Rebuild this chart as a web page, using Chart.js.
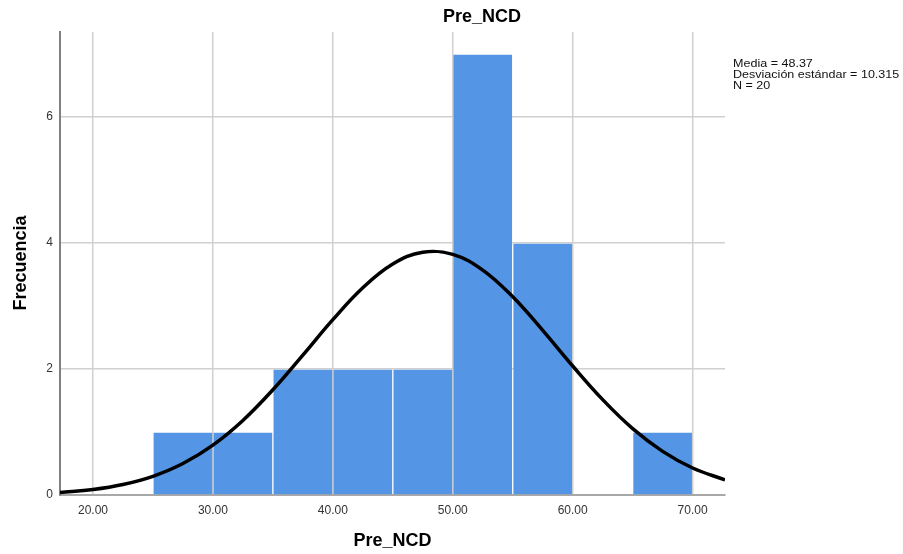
<!DOCTYPE html>
<html>
<head>
<meta charset="utf-8">
<script src="https://cdn.jsdelivr.net/npm/chart.js@4/dist/chart.umd.min.js"></script>
<style>
html,body{margin:0;padding:0;background:#fff;}
#wrap{width:903px;height:554px;position:relative;}
</style>
</head>
<body>
<div id="wrap"><canvas id="c" width="903" height="554"></canvas></div>
<script>
// Histogram bins (centers) and counts
const binCenters = [27.5, 32.5, 37.5, 42.5, 47.5, 52.5, 57.5, 62.5, 67.5];
const binCounts  = [1, 1, 2, 2, 2, 7, 4, 0, 1];
// Normal curve
const curveX = [17.25, 20, 22.5, 25, 27.5, 30, 32.5, 35, 37.5, 40, 42.5, 45, 47.5, 50, 52.5, 55, 57.5, 60, 62.5, 65, 67.5, 70, 72.7];
const curveY = [0.041, 0.088, 0.167, 0.297, 0.499, 0.792, 1.184, 1.670, 2.220, 2.783, 3.290, 3.667, 3.854, 3.820, 3.570, 3.146, 2.614, 2.048, 1.514, 1.054, 0.693, 0.429, 0.239];
const xTicks = [20, 30, 40, 50, 60, 70];
const yTicks = [0, 2, 4, 6];
const xRange = [17.25, 72.7];
const yRange = [0, 7.35];
const chartTitle = "Pre_NCD";
const xTitle = "Pre_NCD";
const yTitle = "Frecuencia";
const statsLines = ["Media = 48.37", "Desviación estándar = 10.315", "N = 20"];

const FONT = "'Liberation Sans', Arial, sans-serif";

const textPlugin = {
  id: 'texts',
  afterDraw(chart) {
    const ctx = chart.ctx;
    const ca = chart.chartArea;
    ctx.save();
    ctx.fillStyle = '#000';
    ctx.textBaseline = 'middle';
    ctx.textAlign = 'center';
    ctx.font = "bold 18px " + FONT;
    ctx.fillText(chartTitle, 482, 17);
    ctx.fillText(xTitle, (ca.left + ca.right) / 2, 541);
    ctx.save();
    ctx.translate(21, 263);
    ctx.rotate(-Math.PI / 2);
    ctx.font = "bold 18px " + FONT;
    ctx.fillText(yTitle, 0, 0);
    ctx.restore();
    ctx.textAlign = 'left';
    ctx.font = "11px " + FONT;
    ctx.fillStyle = '#111';
    statsLines.forEach((s, i) => {
      ctx.save();
      ctx.translate(733, 63.5 + i * 11.4);
      ctx.scale(1.14, 1);
      ctx.fillText(s, 0, 0);
      ctx.restore();
    });
    ctx.restore();
  }
};

new Chart(document.getElementById('c'), {
  data: {
    datasets: [
      {
        type: 'line',
        data: curveX.map((x, i) => ({x: x, y: curveY[i]})),
        borderColor: '#000',
        borderWidth: 3.5,
        pointRadius: 0,
        tension: 0.4,
        fill: false,
        order: 0
      },
      {
        type: 'bar',
        data: binCenters.map((x, i) => ({x: x, y: binCounts[i]})),
        backgroundColor: '#5495e5',
        borderColor: 'rgba(255,255,255,0)',
        borderWidth: 1,
        borderSkipped: 'start',
        categoryPercentage: 1,
        barPercentage: 1,
        order: 1
      }
    ]
  },
  options: {
    responsive: false,
    animation: false,
    layout: { padding: { top: 32, right: 178, left: 0, bottom: 0 } },
    plugins: { legend: { display: false }, tooltip: { enabled: false }, title: { display: false } },
    scales: {
      x: {
        type: 'linear',
        offset: false,
        min: xRange[0], max: xRange[1],
        afterBuildTicks(s) { s.ticks = xTicks.map(v => ({value: v})); },
        afterFit(s) { s.height = 59; },
        grid: { offset: false, color: '#d0d0d0', lineWidth: 1.5, drawTicks: false },
        border: { color: '#a8a8a8', width: 2 },
        ticks: { color: '#333', font: { family: FONT, size: 12 }, padding: 8, callback: v => v.toFixed(2), maxRotation: 0 }
      },
      y: {
        type: 'linear',
        min: yRange[0], max: yRange[1],
        afterBuildTicks(s) { s.ticks = yTicks.map(v => ({value: v})); },
        afterFit(s) { s.width = 60; },
        grid: { color: ctx => ctx.tick && ctx.tick.value === 0 ? 'rgba(0,0,0,0)' : '#d0d0d0', lineWidth: 1.5, drawTicks: false },
        border: { color: '#808080', width: 2 },
        ticks: { color: '#333', font: { family: FONT, size: 12 }, padding: 7 }
      }
    }
  },
  plugins: [textPlugin]
});
</script>
</body>
</html>
